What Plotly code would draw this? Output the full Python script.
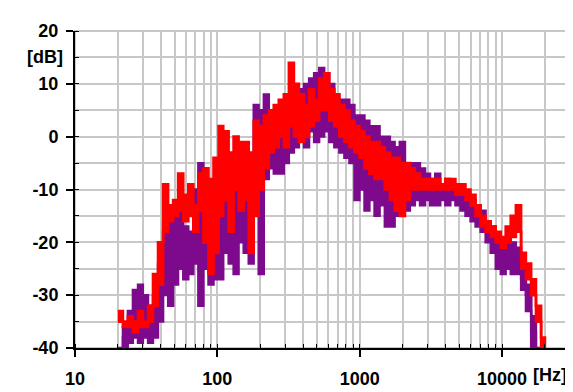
import math
import plotly.graph_objects as go

# Frequencies (Hz)
freq = [20, 21.7, 23.5, 25.5, 27.7, 30, 32.6, 35.3, 38.3, 41.6, 45.1, 48.9, 53, 57.6, 62.5,
        67.8, 73.5, 79.8, 86.6, 94, 102, 110, 120, 130, 141, 153, 166, 180, 195, 212,
        230, 249, 270, 293, 318, 345, 374, 406, 441, 478, 519, 563, 611, 663, 719,
        780, 846, 918, 996, 1080, 1170, 1270, 1380, 1500, 1630, 1760, 1910, 2080, 2250, 2440,
        2650, 2880, 3120, 3390, 3680, 3990, 4330, 4700, 5100, 5530, 6000, 6510, 7060, 7660, 8310,
        9020, 9790, 10600, 11500, 12500, 13600, 14700, 16000, 17300, 18800, 20000]

red_a = [-33, -35, -34, -35, -33, -35, -32, -26, -20, -9, -13, -12, -7, -11, -9,
         -13, -7, -6, -8, -4, 2, 1, -3, 0, -1, -1, -3, 3, 2, 4,
         5, 6, 7, 8, 14, 10, 8, 6, 9, 7, 11, 12, 9, 8, 6,
         5, 3, 2, 1, 0, -1, -1, -2, -3, -4, -4, -5, -5, -6, -7,
         -8, -8, -8, -8, -9, -8, -8, -9, -9, -10, -11, -13, -15, -16, -17,
         -18, -19, -17, -15, -13, -22, -24, -27, -32, -38, -42]

red_b = [-35, -36, -36, -37, -36, -36, -35, -32, -28, -18, -16, -15, -14, -16, -15,
         -18, -14, -20, -26, -22, -15, -12, -18, -10, -14, -12, -22, -15, -10, -6,
         -3, -2, 0, -2, 2, 0, -1, 0, 2, 3, 5, 5, 3, 2, 0,
         -1, -2, -3, -4, -6, -7, -8, -8, -10, -12, -14, -15, -12, -10, -10,
         -10, -10, -10, -10, -10, -10, -10, -11, -11, -12, -13, -15, -17, -18, -19,
         -20, -21, -20, -19, -18, -25, -27, -30, -35, -41, -45]

purple_a = [-40, -36, -33, -29, -28, -30, -32, -30, -24, -16, -15, -14, -14, -17, -18,
            -10, -5, -8, -12, -10, -6, -8, -10, -5, -6, -8, -4, 6, 5, 8,
            3, 2, 3, 5, 6, 5, 9, 10, 11, 12, 13, 12, 10, 8, 7,
            7, 6, 4, 4, 3, 2, 2, 0, 0, -1, -2, -1, -5, -5, -5,
            -6, -7, -8, -7, -9, -8, -9, -9, -10, -11, -12, -13, -14, -16, -17,
            -19, -20, -20, -20, -21, -25, -28, -34, -40, -45, -45]

purple_b = [-42, -38, -37, -36, -35, -36, -35, -34, -30, -22, -24, -20, -19, -22, -21,
            -18, -15, -17, -19, -16, -14, -13, -16, -12, -13, -14, -10, -3, -6, 0,
            -2, -3, -2, 0, 1, 2, 4, 3, 5, 6, 7, 7, 5, 4, 3,
            2, 1, -3, -2, -5, -4, -6, -6, -8, -9, -8, -9, -9, -9, -8,
            -10, -9, -10, -10, -11, -10, -11, -11, -12, -13, -14, -15, -16, -18, -19,
            -22, -23, -22, -23, -24, -27, -30, -37, -42, -45, -45]

purple_c = [-45, -41, -39, -38, -39, -38, -39, -38, -35, -30, -32, -28, -25, -27, -26,
            -24, -32, -25, -28, -27, -27, -22, -24, -26, -20, -22, -24, -12, -26, -8,
            -6, -7, -7, -5, -3, -2, 0, -2, 1, -1, 0, 1, -1, -2, -3,
            -4, -5, -12, -10, -14, -12, -15, -13, -17, -17, -15, -14, -14, -13, -12,
            -13, -12, -13, -13, -12, -13, -12, -13, -14, -15, -16, -17, -18, -20, -22,
            -25, -26, -25, -26, -26, -29, -33, -40, -42, -45, -45]

x_ticks = [10, 100, 1000, 10000]
x_tick_labels = ["10", "100", "1000", "10000"]
y_ticks = [-40, -30, -20, -10, 0, 10, 20]
y_tick_labels = ["-40", "-30", "-20", "-10", "0", "10", "20"]

PURPLE = "#7d0a8c"
RED = "#ff0000"
GRID = "#c8c8c8"
FONT = dict(family="Arial, Liberation Sans, sans-serif", size=18, color="black", weight="bold")


def trace(ys, color, width, fill=None):
    return go.Scatter(x=freq, y=ys, mode="lines", line=dict(color=color, width=width, shape="hv"),
                      fill=fill, fillcolor=color, showlegend=False, hoverinfo="skip")


fig = go.Figure()
fig.add_trace(trace(purple_c, PURPLE, 2.4))
fig.add_trace(trace(purple_a, PURPLE, 2.4, fill="tonexty"))
fig.add_trace(trace(purple_b, PURPLE, 2.4))
fig.add_trace(trace(red_b, RED, 2.6))
fig.add_trace(trace(red_a, RED, 2.6, fill="tonexty"))

fig.update_xaxes(type="log", range=[1, math.log10(30000)],
                 tickvals=x_ticks, ticktext=x_tick_labels, tickfont=FONT,
                 showgrid=True, gridcolor=GRID, gridwidth=2,
                 showline=True, linecolor="black", linewidth=2,
                 ticks="outside", ticklen=7, tickwidth=2, tickcolor="black",
                 minor=dict(dtick="D1", showgrid=True, gridcolor=GRID, gridwidth=2,
                            ticks="inside", ticklen=4, tickwidth=1, tickcolor="black"),
                 zeroline=False, ticklabelstandoff=6)
fig.update_yaxes(range=[-40, 20], tickvals=y_ticks, ticktext=y_tick_labels, tickfont=FONT,
                 showgrid=True, gridcolor=GRID, gridwidth=2,
                 showline=True, linecolor="black", linewidth=2,
                 ticks="outside", ticklen=7, tickwidth=2, tickcolor="black",
                 minor=dict(dtick=5, showgrid=True, gridcolor=GRID, gridwidth=2,
                            ticks="inside", ticklen=4, tickwidth=1, tickcolor="black"),
                 zeroline=False, ticklabelstandoff=4)

fig.add_shape(type="rect", xref="paper", yref="paper", x0=0, x1=1, y0=0, y1=1,
              line=dict(color=GRID, width=2), layer="below")

fig.add_annotation(text="[dB]", xref="paper", yref="y", x=0, y=15, xanchor="right",
                   xshift=-10, showarrow=False, font=FONT)
fig.add_annotation(text="[Hz]", xref="x", yref="paper", x=4, y=0, xanchor="left",
                   yanchor="top", xshift=29, yshift=-15, showarrow=False, font=FONT)

fig.update_layout(width=573, height=392, margin=dict(l=67, r=11, t=23, b=43),
                  plot_bgcolor="white", paper_bgcolor="white", showlegend=False)

fig.write_html("out.html")
